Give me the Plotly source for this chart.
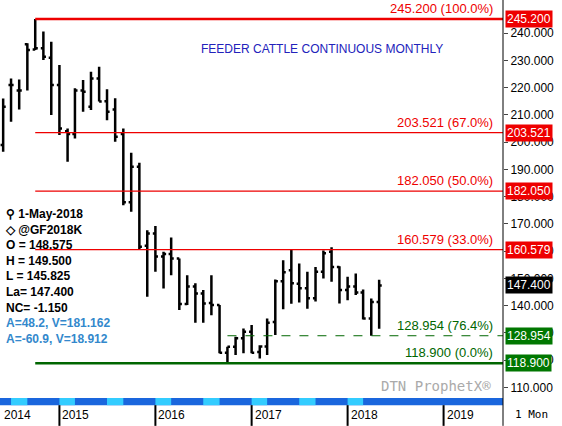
import plotly.graph_objects as go
import pandas as pd

months = pd.date_range("2014-06-01", "2018-05-01", freq="MS")
opens  = [199,221,219,236,234,234.5,231,221,204,203,219,213,223.4,215,212,203,178,191,162,166.5,158,159,157.3,140.6,147,144.5,141,140.2,122.7,124.9,128,130.4,123,125,134,149,153,148,146.4,142.7,152.4,159.8,154.2,145.7,147,144.8,135.3,141.3]
highs  = [216,223.4,223,236.3,245.2,240.6,236.9,228.3,205,219.8,222.8,225.9,227.7,219.4,216.1,205,196.1,192.5,167.7,169.2,159.8,165,157.3,151.2,148.2,145.7,151.2,140.2,124.9,128.6,131.6,132.9,125.5,135.3,149.6,156.7,160.7,155.5,152.4,154.2,160.2,161.4,154.5,150.6,151.8,145.9,142.6,149.5]
lows   = [196.5,207.5,212,219,233.8,230.2,210,202.6,192.8,201.4,211.2,211.8,214.9,208.1,200.2,176.9,174.5,160.5,143.3,152.4,146.3,151.2,138.4,140.2,133.7,133.7,136.5,122.5,118.9,121.9,122.5,122.5,120.6,121.9,129.2,138.7,140.7,141.2,138.9,141.5,150,148.8,140.8,142,143.9,134.9,128.954,131.5]
closes = [213,221,219,233.8,234.5,231.4,221,205,203,219,218.5,223.4,214.9,211.2,202,178,191,161.6,166.5,158,159,157.3,140.6,147,144.5,140.8,140.2,122.7,124.9,128,130.4,122.7,125,133.7,149,152.3,148.2,146.4,142.7,152.4,159.2,154.2,145.7,147,144.8,135.3,141.3,147.4]

fib_levels = [245.2, 203.521, 182.05, 160.579]
fib_labels = ["245.200 (100.0%)", "203.521 (67.0%)", "182.050 (50.0%)", "160.579 (33.0%)"]
green_levels = [128.954, 118.9]
green_labels = ["128.954 (76.4%)", "118.900 (0.0%)"]
last_price = 147.4
years = ["2015", "2016", "2017", "2018", "2019"]
info_lines = ["1-May-2018", "@GF2018K", "O = 148.575", "H = 149.500", "L = 145.825", "La= 147.400", "NC= -1.150"]
info_blue = ["A=48.2, V=181.162", "A=-60.9, V=18.912"]

X0, X1 = "2014-05-20", "2019-08-15"
fig = go.Figure(go.Ohlc(x=months, open=opens, high=highs, low=lows, close=closes,
                        increasing=dict(line=dict(color="black", width=2.5)),
                        decreasing=dict(line=dict(color="black", width=2.5)),
                        tickwidth=0.35, hoverinfo="skip"))
shapes, ann = [], []
F = "Liberation Sans, Arial"
BF = dict(family=F, size=12, color="white")
for i, (lv, lb) in enumerate(zip(fib_levels, fib_labels)):
    shapes.append(dict(type="line", xref="x", yref="y", x0="2014-10-01", x1=X1, y0=lv, y1=lv,
                       line=dict(color="#ee0000", width=2.5 if i == 0 else 1.2)))
    ann.append(dict(xref="paper", yref="y", x=0.985, y=lv, text=lb, showarrow=False, xanchor="right",
                    yanchor="bottom", yshift=1, font=dict(family=F, size=13, color="#ee0000")))
    ann.append(dict(xref="paper", yref="y", x=1.0, y=lv, text=f"{lv:.3f}", showarrow=False, xanchor="left",
                    bgcolor="#ee0000", font=BF, borderpad=1, xshift=2))
for i, (lv, lb) in enumerate(zip(green_levels, green_labels)):
    if i == 0:
        shapes.append(dict(type="line", xref="x", yref="y", x0="2016-10-01", x1=X1, y0=lv, y1=lv,
                           line=dict(color="#006600", width=1, dash="dash")))
    else:
        shapes.append(dict(type="line", xref="x", yref="y", x0="2014-10-01", x1=X1, y0=lv, y1=lv,
                           line=dict(color="#006600", width=2.5)))
    ann.append(dict(xref="paper", yref="y", x=0.985, y=lv, text=lb, showarrow=False, xanchor="right",
                    yanchor="bottom", yshift=1, font=dict(family=F, size=13, color="#006600")))
    ann.append(dict(xref="paper", yref="y", x=1.0, y=lv, text=f"{lv:.3f}", showarrow=False, xanchor="left",
                    bgcolor="#007700", font=BF, borderpad=1, xshift=2))
ann.append(dict(xref="paper", yref="y", x=1.0, y=last_price, text=f"{last_price:.3f}", showarrow=False,
                xanchor="left", bgcolor="black", font=BF, borderpad=1, xshift=2))
# stripe
shapes.append(dict(type="rect", xref="paper", yref="paper", x0=0, x1=1, y0=-0.018, y1=0, fillcolor="#1a66dd", line_width=0))
for d in pd.date_range("2014-07-01", "2018-06-01", freq="6MS"):
    shapes.append(dict(type="rect", xref="x", yref="paper", x0=d, x1=d + pd.DateOffset(months=2),
                       y0=-0.018, y1=0, fillcolor="#33ccff", line_width=0))
for y in years:
    shapes.append(dict(type="line", xref="x", yref="paper", x0=f"{y}-01-01", x1=f"{y}-01-01", y0=-0.018, y1=-0.07,
                       line=dict(color="black", width=2)))
    ann.append(dict(xref="x", yref="paper", x=f"{y}-01-01", y=-0.02, text=y, showarrow=False, xanchor="left",
                    yanchor="top", xshift=1, font=dict(family=F, size=12, color="black")))
ann.append(dict(xref="paper", yref="paper", x=0.004, y=-0.02, text="2014", showarrow=False, xanchor="left",
                yanchor="top", font=dict(family=F, size=12, color="black")))
shapes.append(dict(type="line", xref="paper", yref="paper", x0=1, x1=1, y0=-0.07, y1=1, line=dict(color="black", width=1)))
ann.append(dict(xref="paper", yref="paper", x=1.02, y=-0.02, text="1 Mon", showarrow=False, xanchor="left",
                yanchor="top", font=dict(family="DejaVu Sans Mono", size=11, color="black")))
ann.append(dict(xref="paper", yref="paper", x=0.64, y=0.9, text="FEEDER CATTLE CONTINUOUS MONTHLY", showarrow=False,
                font=dict(family=F, size=12, color="#2222bb")))
ann.append(dict(xref="paper", yref="paper", x=0.98, y=0.005, text="DTN ProphetX®", showarrow=False, xanchor="right",
                yanchor="bottom", font=dict(family="DejaVu Sans Mono", size=14, color="#aaaaaa")))
pre = ["⚲ ", "◇ "] + [""] * 5
txt = "<br>".join(f"{p}{t}" for p, t in zip(pre, info_lines))
txt += "<br>" + "<br>".join(f"<span style='color:#3388cc'>{t}</span>" for t in info_blue)
ann.append(dict(xref="paper", yref="paper", x=0.005, y=1 - 205 / 398, text=f"<b>{txt}</b>", align="left",
                showarrow=False, xanchor="left", yanchor="top", font=dict(family=F, size=12, color="black")))

fig.update_layout(width=562, height=426, margin=dict(l=0, r=59, t=0, b=28), plot_bgcolor="white",
                  paper_bgcolor="white", showlegend=False, shapes=shapes, annotations=ann,
                  xaxis=dict(range=[X0, X1], showticklabels=False, showgrid=False, rangeslider=dict(visible=False),
                             zeroline=False),
                  yaxis=dict(side="right", range=[106.1, 252.2], tickvals=list(range(110, 250, 10)),
                             tickformat=".3f", ticks="outside", ticklen=4, showgrid=False, zeroline=False,
                             tickfont=dict(family=F, size=12, color="black")))
fig.write_html("out.html", config={"displayModeBar": False})
with open("out.html", encoding="utf-8") as f:
    html = f.read()
html = html.replace("<head>", "<head><style>html,body{margin:0;padding:0;overflow:hidden}</style>", 1)
with open("out.html", "w", encoding="utf-8") as f:
    f.write(html)
